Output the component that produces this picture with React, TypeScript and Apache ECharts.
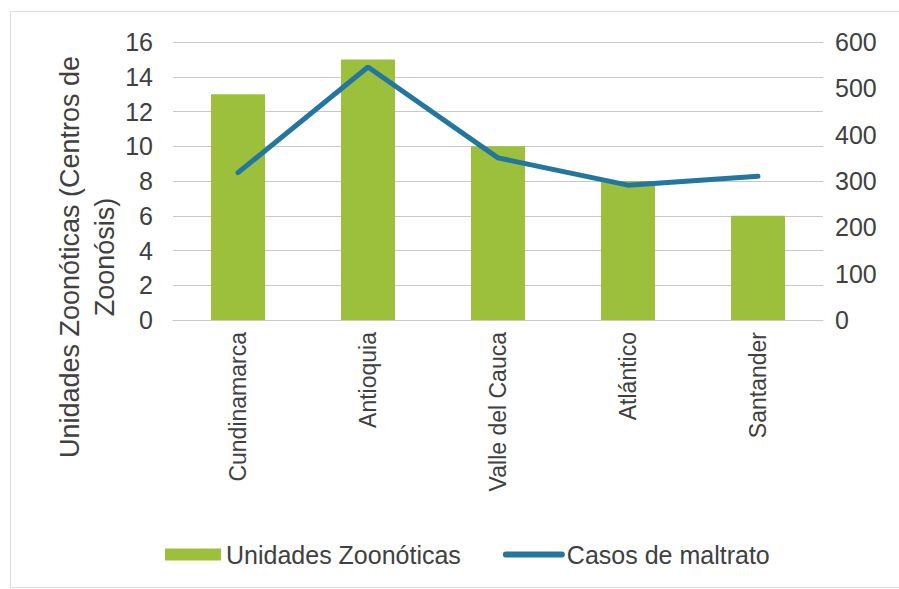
import React, { useEffect, useRef } from "react";
import * as echarts from "echarts";

const categories = ["Cundinamarca", "Antioquia", "Valle del Cauca", "Atlántico", "Santander"];
const unidades = [13, 15, 10, 8, 6];
const casos = [318, 546, 350, 291, 310];
const leftTicks = { min: 0, max: 16, interval: 2 };
const rightTicks = { min: 0, max: 600, interval: 100 };
const seriesNames = ["Unidades Zoonóticas", "Casos de maltrato"];
const yTitle = "Unidades Zoonóticas (Centros de\nZoonósis)";

const FONT = "'Liberation Sans', Arial, sans-serif";
const TXT = "#404040";

export default function App() {
  const ref = useRef<HTMLDivElement>(null);
  useEffect(() => {
    if (!ref.current) return;
    const chart = echarts.init(ref.current, null, { renderer: "svg" });
    chart.setOption({
      animation: false,
      backgroundColor: "#ffffff",
      textStyle: { fontFamily: FONT, color: TXT },
      grid: { left: 173, right: 76, top: 42, bottom: 269, containLabel: false },
      legend: {
        left: 160,
        top: 537,
        itemWidth: 56,
        itemHeight: 12,
        itemGap: 42,
        textStyle: { fontSize: 25, color: TXT, fontFamily: FONT },
        data: [
          { name: seriesNames[0], icon: "rect" },
          {
            name: seriesNames[1],
            itemStyle: { opacity: 0 },
            lineStyle: { width: 6, color: "#22769f", cap: "round" },
          },
        ],
      },
      xAxis: {
        type: "category",
        data: categories,
        axisTick: { show: false },
        axisLine: { show: true, lineStyle: { color: "#c8c8c8", width: 1 } },
        axisLabel: {
          rotate: 90,
          fontSize: 23,
          color: TXT,
          fontFamily: FONT,
          margin: 12,
          interval: 0,
        },
      },
      yAxis: [
        {
          type: "value",
          min: leftTicks.min,
          max: leftTicks.max,
          interval: leftTicks.interval,
          axisLine: { show: false },
          axisTick: { show: false },
          axisLabel: { fontSize: 25, color: TXT, fontFamily: FONT, margin: 20 },
          splitLine: { lineStyle: { color: "#c8c8c8", width: 1 } },
        },
        {
          type: "value",
          min: rightTicks.min,
          max: rightTicks.max,
          interval: rightTicks.interval,
          position: "right",
          axisLine: { show: false },
          axisTick: { show: false },
          axisLabel: { fontSize: 25, color: TXT, fontFamily: FONT, margin: 12 },
          splitLine: { show: false },
        },
      ],
      series: [
        {
          name: seriesNames[0],
          type: "bar",
          data: unidades,
          barWidth: 54,
          yAxisIndex: 0,
          itemStyle: { color: "#9dc03c" },
        },
        {
          name: seriesNames[1],
          type: "line",
          data: casos,
          yAxisIndex: 1,
          symbol: "none",
          showSymbol: false,
          lineStyle: { color: "#22769f", width: 5, cap: "round" },
          itemStyle: { color: "#22769f" },
        },
      ],
      graphic: [
        {
          type: "rect",
          shape: { x: 10.5, y: 11.5, width: 1000, height: 576 },
          style: { fill: "none", stroke: "#dcdcdc", lineWidth: 1 },
          silent: true,
        },
        {
          type: "text",
          x: 87,
          y: 257,
          rotation: Math.PI / 2,
          style: {
            text: yTitle,
            fontSize: 27,
            lineHeight: 35,
            fontFamily: FONT,
            fill: TXT,
            align: "center",
            verticalAlign: "middle",
          },
        },
      ],
    });
    return () => chart.dispose();
  }, []);
  return (
    <div
      ref={ref}
      style={{ position: "fixed", left: 0, top: 0, width: 899, height: 589 }}
    />
  );
}
